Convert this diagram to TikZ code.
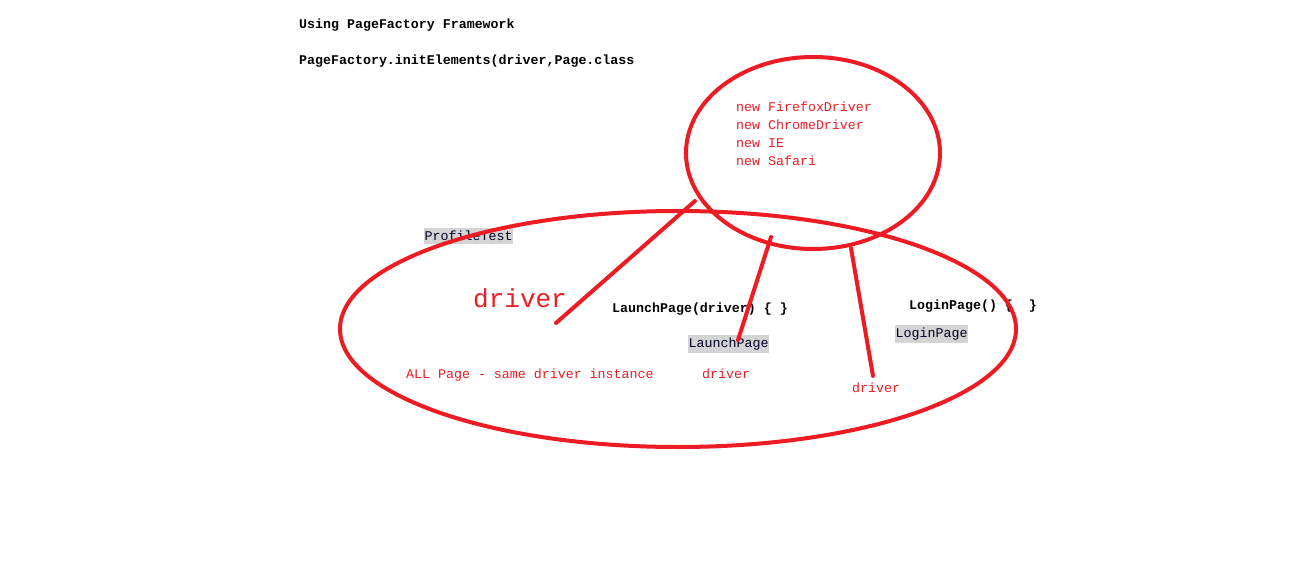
\documentclass[tikz,border=0pt]{standalone}
\usepackage{fontspec}
\setmonofont{Liberation Mono}
\begin{document}
\begin{tikzpicture}[x=1pt,y=-1pt,
  every node/.style={inner sep=0pt,anchor=west,font=\ttfamily\fontsize{13.3}{14}\selectfont},
  blk/.style={font=\ttfamily\bfseries\fontsize{13.3}{14}\selectfont,text=black},
  redtxt/.style={text=pred},
  graybox/.style={fill=boxgray,inner xsep=0.5pt,inner ysep=3pt,text=black!85!blue},
  stroke/.style={draw=pred,line width=4pt,line cap=round}]
\definecolor{pred}{HTML}{ED1C24}
\definecolor{boxgray}{HTML}{D4D4D4}
\useasboundingbox[fill=white] (0,0) rectangle (1292,561);
% titles
\node[blk] (t1) at (299,25) {Using PageFactory Framework};
\node[blk] (t2) at (299,61) {PageFactory.initElements(driver,Page.class};
% driver list
\node[redtxt] (n1) at (736,107) {new FirefoxDriver};
\node[redtxt] (n2) at (736,125) {new ChromeDriver};
\node[redtxt] (n3) at (736,143) {new IE};
\node[redtxt] (n4) at (736,161) {new Safari};
% inner labels
\node[graybox] (pt) at (424,236) {ProfileTest};
\node[redtxt,font=\ttfamily\fontsize{26}{28}\selectfont] (bd) at (473,298) {driver};
\node[blk] (lp) at (612,309) {LaunchPage(driver) \{ \}};
\node[blk] (lg) at (909,306) {LoginPage() \{\ \ \}};
\node[graybox] (lpg) at (688,344) {LaunchPage};
\node[graybox] (lgg) at (895,334) {LoginPage};
\node[redtxt] (all) at (406,375) {ALL Page - same driver instance};
\node[redtxt] (d1) at (702,374) {driver};
\node[redtxt] (d2) at (852,388) {driver};
% ellipses (drawn over the labels, as in the sketch)
\draw[stroke] (678,329) ellipse [x radius=338, y radius=118];
\draw[stroke] (813,153) ellipse [x radius=127, y radius=96];
% connectors
\coordinate (a1) at (695,201);
\coordinate (b1) at (556,323);
\coordinate (a2) at (771,237);
\coordinate (b2) at (738,340);
\coordinate (a3) at (851,248);
\coordinate (b3) at (873,376);
\draw[stroke] (a1) -- (b1);
\draw[stroke] (a2) -- (b2);
\draw[stroke] (a3) -- (b3);
\end{tikzpicture}
\end{document}
